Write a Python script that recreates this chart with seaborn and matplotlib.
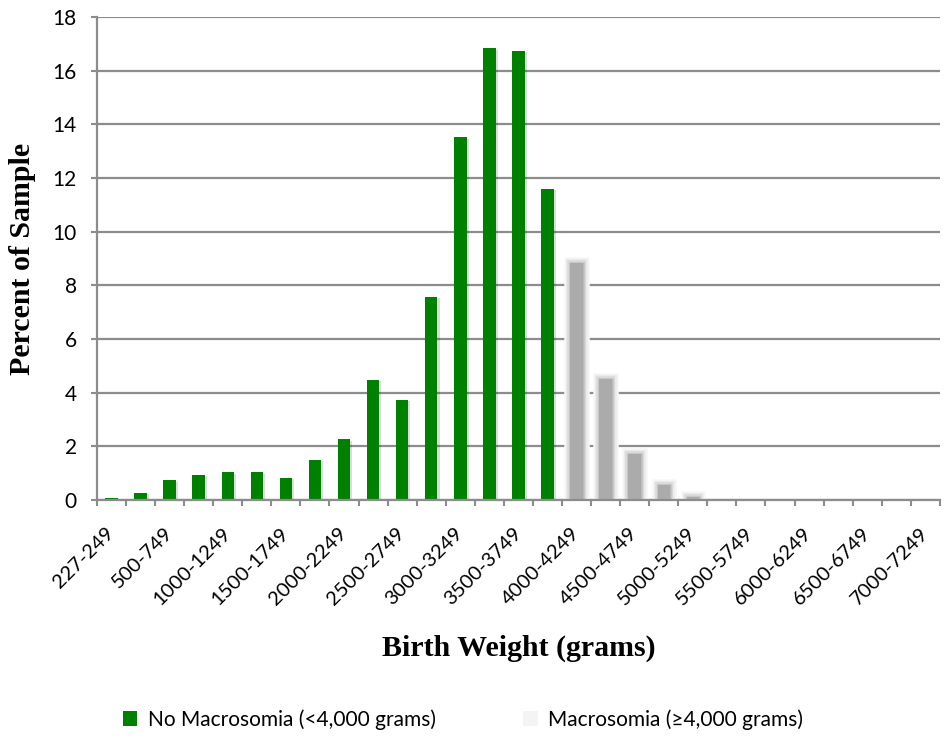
import pandas as pd
import matplotlib
matplotlib.use("Agg")
import matplotlib.pyplot as plt
import matplotlib.patheffects as pe
from matplotlib.patches import Patch
from matplotlib.transforms import ScaledTranslation
import seaborn as sns

# Data
bins = ["227-249"] + [f"{lo}-{lo + 249}" for lo in range(250, 7001, 250)]
no_macro = [0.06, 0.27, 0.74, 0.93, 1.03, 1.03, 0.83, 1.49, 2.26, 4.49, 3.73, 7.57,
            13.52, 16.83, 16.75, 11.6]
macro = [8.85, 4.5, 1.72, 0.57, 0.1, 0.02, 0.01, 0.01, 0, 0, 0, 0, 0]
groups = ["No Macrosomia (<4,000 grams)", "Macrosomia (\u22654,000 grams)"]

df = pd.DataFrame({
    "bin": bins,
    "pct": no_macro + macro,
    "group": [groups[0]] * len(no_macro) + [groups[1]] * len(macro),
})

sns.set_style("white")
plt.rcParams["font.family"] = ["Lato", "DejaVu Sans"]
plt.rcParams["text.color"] = "black"
plt.rcParams["xtick.color"] = "black"
plt.rcParams["ytick.color"] = "black"
plt.rcParams["axes.labelcolor"] = "black"

fig = plt.figure(figsize=(9.45, 7.39), dpi=100)
ax = fig.add_axes([0.1026, 0.3234, 0.892, 0.6536])

green = "#008000"
gray = "#ababab"
sns.barplot(data=df, x="bin", y="pct", hue="group", dodge=False, width=0.43,
            palette={groups[0]: green, groups[1]: gray}, order=bins,
            hue_order=groups, legend=False, ax=ax, saturation=1)

# soft blurred look for the macrosomia bars, light shadow on the others
glow = [pe.Stroke(linewidth=9, foreground="#f6f6f6"),
        pe.Stroke(linewidth=6.5, foreground="#ececec"),
        pe.Stroke(linewidth=4.5, foreground="#dedede"),
        pe.Stroke(linewidth=2.5, foreground="#cccccc"),
        pe.Stroke(linewidth=1, foreground="#bababa"),
        pe.Normal()]
for bar, g, v in zip(ax.patches, df["group"], df["pct"]):
    bar.set_linewidth(0)
    if g == groups[1]:
        bar.set_path_effects(glow if v > 0.05 else [])
        if v <= 0.05:
            bar.set_facecolor("#e4e4e4")
    else:
        bar.set_path_effects([pe.SimplePatchShadow(offset=(1.5, -1), alpha=0.15),
                              pe.Normal()])

ax.set_ylim(0, 18)
ax.set_xlim(-0.5, len(bins) - 0.5)
ax.set_yticks(range(0, 19, 2))
ax.yaxis.grid(True, color="#8c8c8c", linewidth=1.6)
ax.set_axisbelow(True)

ax.set_xticks(range(len(bins)))
ax.set_xticklabels([b if i % 2 == 0 else "" for i, b in enumerate(bins)],
                   rotation=45, ha="right", va="center", rotation_mode="anchor",
                   fontsize=14.5)
shift = ScaledTranslation(-2 / 72, 0, fig.dpi_scale_trans)
for lab in ax.get_xticklabels():
    lab.set_transform(lab.get_transform() + shift)
ax.set_xticks([i - 0.5 for i in range(len(bins) + 1)], minor=True)
ax.tick_params(axis="x", which="major", length=0, pad=22)
ax.tick_params(axis="x", which="minor", length=4.5, width=1.5, color="#8c8c8c",
               direction="out", bottom=True)
ax.tick_params(axis="y", length=4.5, width=1.5, color="#8c8c8c", direction="out",
               left=True, labelsize=15, pad=10)

for side in ["top", "right"]:
    ax.spines[side].set_visible(False)
for side in ["left", "bottom"]:
    ax.spines[side].set_color("#8c8c8c")
    ax.spines[side].set_linewidth(1.6)

ax.set_xlabel("Birth Weight (grams)", fontsize=21.5, fontweight="bold",
              family="Liberation Serif", labelpad=19)
ax.set_ylabel("Percent of Sample", fontsize=21.5, fontweight="bold",
              family="Liberation Serif", labelpad=12)

handles = [Patch(facecolor=green, edgecolor="none"),
           Patch(facecolor="#f4f4f4", edgecolor="none")]
fig.legend(handles, groups, loc="center", bbox_to_anchor=(0.49, 0.026), ncol=2,
           frameon=False, fontsize=15, handlelength=0.7, handleheight=0.7,
           handletextpad=0.5, columnspacing=4.2)

fig.savefig("out.png", dpi=100)
